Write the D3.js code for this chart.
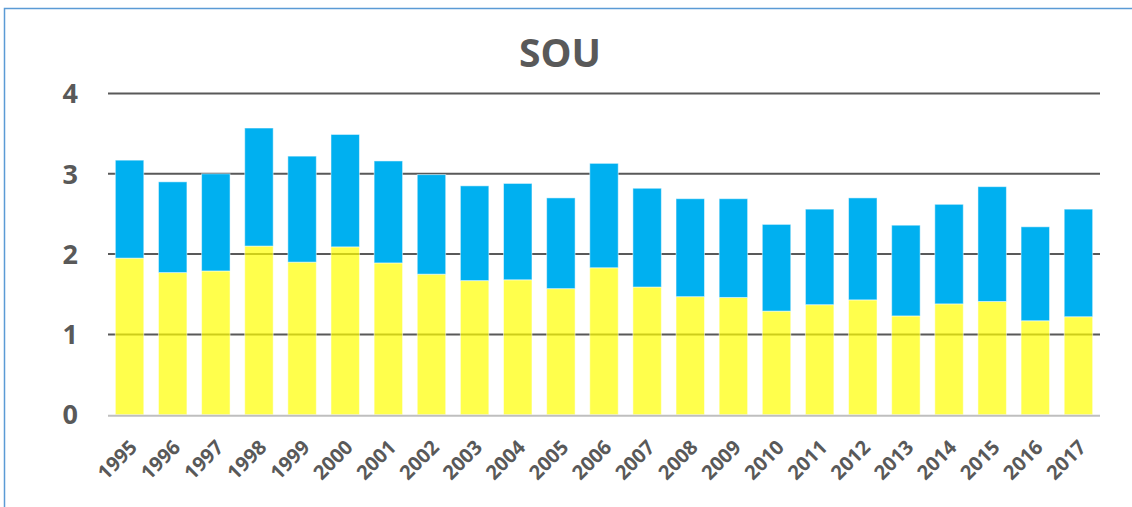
<!DOCTYPE html>
<html>
<head>
<meta charset="utf-8">
<script src="https://cdn.jsdelivr.net/npm/d3@7"></script>
<style>
  body { margin: 0; background: #fff; }
  text { font-family: "Open Sans", "Liberation Sans", sans-serif; font-weight: bold; fill: #595959; }
</style>
</head>
<body>
<div id="chart"></div>
<script>
// chart data
var years = ["1995","1996","1997","1998","1999","2000","2001","2002","2003","2004","2005","2006",
             "2007","2008","2009","2010","2011","2012","2013","2014","2015","2016","2017"];
var lower = [1.95,1.77,1.79,2.10,1.90,2.09,1.89,1.75,1.67,1.68,1.57,1.83,
             1.59,1.47,1.46,1.29,1.37,1.43,1.23,1.38,1.41,1.17,1.22];
var upper = [1.22,1.13,1.21,1.47,1.32,1.40,1.27,1.24,1.18,1.20,1.13,1.30,
             1.23,1.22,1.23,1.08,1.19,1.27,1.13,1.24,1.43,1.17,1.34];
var yTicks = [0,1,2,3,4];
var title = "SOU";

var W = 1132, H = 507;
var plotLeft = 108, plotRight = 1100, plotTop = 93.5, plotBottom = 414.7;

var svg = d3.select("#chart").append("svg").attr("width", W).attr("height", H);

// frame (top + left edge visible)
svg.append("path")
  .attr("d", "M4.5," + H + " V8.5 H" + W)
  .attr("fill", "none").attr("stroke", "#5B9BD5").attr("stroke-width", 1.5);

var x = d3.scaleBand().domain(years).range([plotLeft, plotRight]).paddingInner(0.34).paddingOuter(0.17);
var y = d3.scaleLinear().domain([0, 4]).range([plotBottom, plotTop]);

// gridlines
svg.append("g").selectAll("line").data(yTicks.filter(function(d){return d>0;}))
  .enter().append("line")
  .attr("x1", plotLeft).attr("x2", plotRight)
  .attr("y1", function(d){return y(d);}).attr("y2", function(d){return y(d);})
  .attr("stroke", "#595959").attr("stroke-width", 2);

// stacked bars
var rows = years.map(function(yr, i){ return {year: yr, lower: lower[i], upper: upper[i]}; });
var stack = d3.stack().keys(["lower","upper"])(rows);
var colours = {lower: "rgba(255,255,0,0.7)", upper: "#00B0F0"};

svg.append("g").selectAll("g").data(stack).enter().append("g")
  .attr("fill", function(d){ return colours[d.key]; })
  .selectAll("rect").data(function(d){ return d; }).enter().append("rect")
  .attr("x", function(d){ return x(d.data.year); })
  .attr("width", x.bandwidth())
  .attr("y", function(d){ return y(d[1]); })
  .attr("height", function(d){ return y(d[0]) - y(d[1]); })
  .attr("stroke", "rgba(255,255,255,0.5)").attr("stroke-width", 1);

// baseline
svg.append("line")
  .attr("x1", plotLeft).attr("x2", plotRight).attr("y1", y(0) + 1).attr("y2", y(0) + 1)
  .attr("stroke", "#BFBFBF").attr("stroke-width", 2);

// y labels
svg.append("g").selectAll("text").data(yTicks).enter().append("text")
  .attr("x", 78).attr("y", function(d){ return y(d); })
  .attr("dy", "0.36em")
  .attr("text-anchor", "end")
  .style("font-size", "27px")
  .text(function(d){ return d; });

// x labels
svg.append("g").selectAll("text").data(years).enter().append("text")
  .attr("transform", function(d){
    return "translate(" + (x(d) + x.bandwidth()/2 - 1) + "," + (plotBottom + 24) + ") rotate(-45)";
  })
  .attr("text-anchor", "end")
  .attr("dy", "0.7em")
  .style("font-size", "20px")
  .text(function(d){ return d; });

// title
svg.append("text")
  .attr("x", 560).attr("y", 67)
  .attr("text-anchor", "middle")
  .style("font-size", "39px")
  .text(title);
</script>
</body>
</html>
